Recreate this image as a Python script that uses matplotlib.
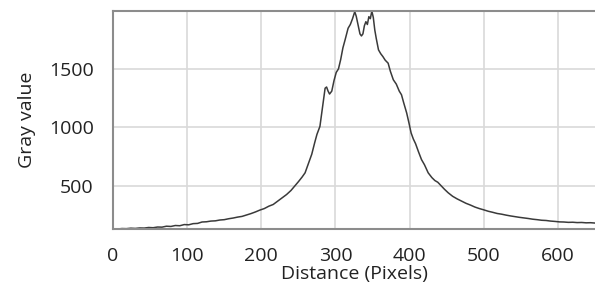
import numpy as np
import matplotlib.pyplot as plt

plt.rcParams['font.family'] = ['Open Sans', 'DejaVu Sans']

# profile, ten points per row
distance = [0, 6, 12, 18, 24, 30, 36, 42, 48, 54,
            60, 66, 72, 78, 84, 90, 96, 102, 108, 114,
            120, 126, 132, 138, 144, 150, 156, 162, 168, 174,
            180, 186, 192, 198, 204, 210, 216, 222, 228, 234,
            240, 245, 250, 255, 259, 264, 268, 272, 275, 279,
            282, 284, 286, 288, 290, 292, 295, 298, 301, 304,
            307, 310, 313, 317, 320, 323, 326, 328, 331, 333,
            335, 337, 339, 341, 343, 345, 347, 349, 351, 353,
            355, 358, 361, 364, 367, 371, 374, 378, 382, 386,
            389, 392, 396, 399, 402, 405, 408, 412, 416, 420,
            425, 430, 434, 438, 443, 447, 452, 458, 464, 470,
            476, 482, 488, 494, 500, 506, 512, 518, 524, 530,
            536, 542, 548, 554, 560, 566, 572, 578, 584, 590,
            596, 602, 608, 614, 620, 626, 632, 638, 644, 650]
gray = [132, 130, 134, 133, 137, 135, 139, 138, 143, 141,
        147, 146, 154, 152, 160, 158, 168, 166, 176, 178,
        190, 192, 198, 200, 207, 210, 218, 224, 232, 238,
        250, 262, 276, 292, 305, 325, 340, 368, 395, 425,
        460, 497, 535, 575, 611, 700, 770, 870, 940, 1008,
        1150, 1240, 1335, 1345, 1310, 1285, 1310, 1400, 1470, 1500,
        1580, 1680, 1750, 1848, 1880, 1930, 1990, 1950, 1860, 1800,
        1782, 1800, 1870, 1904, 1880, 1947, 1930, 1995, 1940, 1833,
        1760, 1663, 1630, 1605, 1575, 1549, 1480, 1407, 1370, 1310,
        1279, 1210, 1123, 1040, 952, 900, 860, 790, 724, 680,
        611, 570, 545, 530, 497, 470, 440, 410, 388, 369,
        350, 335, 318, 305, 294, 282, 273, 263, 257, 249,
        242, 236, 230, 225, 220, 214, 210, 205, 203, 198,
        195, 191, 190, 187, 188, 185, 186, 183, 184, 181]

fig = plt.figure(figsize=(5.95, 2.91), dpi=100)
ax = fig.add_axes([0.19, 0.213, 0.81, 0.749])
ax.plot(distance, gray, color='#3a3a3a', linewidth=1.1)

ax.set_xlim(0, 650)
ax.set_ylim(130, 1995)
ax.set_xticks([0, 100, 200, 300, 400, 500, 600])
ax.set_yticks([500, 1000, 1500])
ax.grid(True, color='#d9d9d9', linewidth=1.2)
ax.set_axisbelow(True)
ax.tick_params(length=0, labelsize=14, colors='#222222')
ax.tick_params(axis='x', pad=13)
ax.tick_params(axis='y', pad=14)
for side in ['left', 'top', 'bottom']:
    ax.spines[side].set_color('#8c8c8c')
    ax.spines[side].set_linewidth(1.5)
ax.spines['right'].set_visible(False)

ax.set_xlabel('Distance (Pixels)', fontsize=14, color='#222222', labelpad=0)
ax.set_ylabel('Gray value', fontsize=14, color='#222222', labelpad=9)

fig.savefig('out.png', dpi=100)
